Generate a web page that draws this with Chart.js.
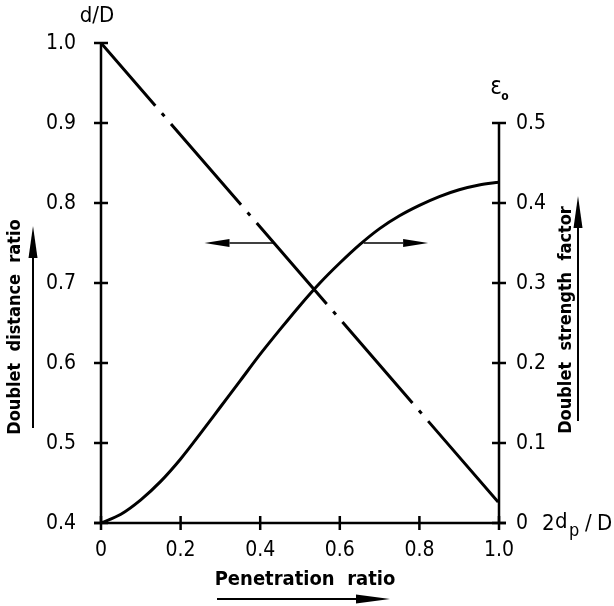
<!DOCTYPE html>
<html>
<head>
<meta charset="utf-8">
<script src="https://cdn.jsdelivr.net/npm/chart.js@4/dist/chart.umd.min.js"></script>
<style>
  html, body { margin: 0; padding: 0; background: #fff; }
  #wrap { width: 614px; height: 606px; }
</style>
</head>
<body>
<div id="wrap"><canvas id="chart_doublet"></canvas></div>
<script>
// penetration ratio 2dp/D
const penetration = [0, 0.05, 0.1, 0.15, 0.2, 0.25, 0.3, 0.35, 0.4, 0.45, 0.5,
    0.55, 0.6, 0.65, 0.7, 0.75, 0.8, 0.85, 0.9, 0.95, 1.0];
// doublet strength factor eps0 (right axis)
const strength = [0, 0.011, 0.029, 0.052, 0.080, 0.112, 0.145, 0.178, 0.211, 0.242, 0.272,
    0.3, 0.325, 0.348, 0.368, 0.384, 0.397, 0.408, 0.4165, 0.4225, 0.426];
// doublet distance ratio d/D (left axis), straight line
const distanceX = [0, 1.0];
const distance = [1.0, 0.425];

const xTicks = [0, 0.2, 0.4, 0.6, 0.8, 1.0];
const xTickLabels = ["0", "0.2", "0.4", "0.6", "0.8", "1.0"];
const leftTicks = [0.4, 0.5, 0.6, 0.7, 0.8, 0.9, 1.0];
const leftTickLabels = ["0.4", "0.5", "0.6", "0.7", "0.8", "0.9", "1.0"];
const rightTicks = [0, 0.1, 0.2, 0.3, 0.4, 0.5];
const rightTickLabels = ["0", "0.1", "0.2", "0.3", "0.4", "0.5"];

const FONT = "'DejaVu Sans Condensed', 'Liberation Sans Narrow', 'DejaVu Sans', sans-serif";

function arrow(ctx, x1, y1, x2, y2, headLen, headW, lw) {
    const a = Math.atan2(y2 - y1, x2 - x1);
    const bx = x2 - headLen * Math.cos(a), by = y2 - headLen * Math.sin(a);
    ctx.lineWidth = lw;
    ctx.beginPath();
    ctx.moveTo(x1, y1);
    ctx.lineTo(bx, by);
    ctx.stroke();
    ctx.beginPath();
    ctx.moveTo(x2, y2);
    ctx.lineTo(bx + headW * Math.sin(a), by - headW * Math.cos(a));
    ctx.lineTo(bx - headW * Math.sin(a), by + headW * Math.cos(a));
    ctx.closePath();
    ctx.fill();
}

const axesPlugin = {
    id: "axesPlugin",
    afterDatasetsDraw(chart) {
        const ctx = chart.ctx;
        const sx = chart.scales.x, sl = chart.scales.y, sr = chart.scales.y2;
        const x0 = sx.getPixelForValue(0), x1 = sx.getPixelForValue(1);
        const yb = sl.getPixelForValue(0.4), yt = sl.getPixelForValue(1.0);
        const rt = sr.getPixelForValue(0.5);
        const t = 7;
        ctx.save();
        ctx.strokeStyle = "#000";
        ctx.fillStyle = "#000";
        ctx.lineWidth = 2.5;
        ctx.lineCap = "butt";

        // axis lines
        ctx.beginPath();
        ctx.moveTo(x0, yt); ctx.lineTo(x0, yb);
        ctx.moveTo(x0 - t, yb); ctx.lineTo(x1 + t, yb);
        ctx.moveTo(x1, rt); ctx.lineTo(x1, yb);
        ctx.stroke();

        // ticks crossing the axes
        ctx.beginPath();
        leftTicks.forEach((v) => {
            const y = sl.getPixelForValue(v);
            ctx.moveTo(x0 - t, y); ctx.lineTo(x0 + t, y);
        });
        rightTicks.forEach((v) => {
            const y = sr.getPixelForValue(v);
            ctx.moveTo(x1 - t, y); ctx.lineTo(x1 + t, y);
        });
        xTicks.forEach((v) => {
            const x = sx.getPixelForValue(v);
            ctx.moveTo(x, yb - t); ctx.lineTo(x, yb + t);
        });
        ctx.stroke();

        // tick labels
        ctx.font = "21px " + FONT;
        ctx.textBaseline = "middle";
        ctx.textAlign = "right";
        leftTicks.forEach((v, i) => {
            ctx.fillText(leftTickLabels[i], x0 - 25, sl.getPixelForValue(v) + 1);
        });
        ctx.textAlign = "left";
        rightTicks.forEach((v, i) => {
            ctx.fillText(rightTickLabels[i], x1 + 17, sr.getPixelForValue(v) + 1);
        });
        ctx.textAlign = "center";
        xTicks.forEach((v, i) => {
            ctx.fillText(xTickLabels[i], sx.getPixelForValue(v), yb + 28);
        });

        // axis names
        ctx.font = "22px " + FONT;
        ctx.textAlign = "center";
        ctx.fillText("d/D", x0 - 4, 16);
        ctx.font = "24px " + FONT;
        ctx.fillText("\u03b5", x1 - 3, 88);
        ctx.font = "bold 12px " + FONT;
        ctx.fillText("o", x1 + 6, 97);

        ctx.font = "22px " + FONT;
        ctx.textAlign = "left";
        ctx.fillText("2", x1 + 43, yb + 1);
        ctx.fillText("d", x1 + 56, yb - 1);
        ctx.font = "18px " + FONT;
        ctx.fillText("p", x1 + 70, yb + 8);
        ctx.font = "22px " + FONT;
        ctx.fillText("/", x1 + 86, yb + 1);
        ctx.fillText("D", x1 + 98, yb + 1);

        ctx.font = "bold 20px " + FONT;
        ctx.textAlign = "center";
        ctx.fillText("Penetration  ratio", 305, 580);
        arrow(ctx, 217, 599, 390, 599, 34, 4.5, 2);

        ctx.save();
        ctx.translate(15, 327);
        ctx.rotate(-Math.PI / 2);
        ctx.font = "bold 18px " + FONT;
        ctx.fillText("Doublet  distance  ratio", 0, 0);
        ctx.restore();
        arrow(ctx, 33, 428, 33, 226, 32, 4.5, 2);

        ctx.save();
        ctx.translate(566, 320);
        ctx.rotate(-Math.PI / 2);
        ctx.font = "bold 18px " + FONT;
        ctx.fillText("Doublet  strength  factor", 0, 0);
        ctx.restore();
        arrow(ctx, 578, 421, 578, 196, 32, 4.5, 2);

        // pointers from each curve to its axis
        const ya = sl.getPixelForValue(0.75);
        const xl = sx.getPixelForValue((1.0 - 0.75) / 0.575);
        arrow(ctx, xl, ya, sx.getPixelForValue(0.26), ya, 25, 4, 1.5);
        const yr = sr.getPixelForValue(0.35);
        arrow(ctx, sx.getPixelForValue(0.66), yr, sx.getPixelForValue(0.822), yr, 25, 4, 1.5);

        ctx.restore();
    },
};

new Chart(document.getElementById("chart_doublet"), {
    type: "line",
    data: {
        datasets: [
            {
                label: "d/D",
                data: distanceX.map((x, i) => ({ x: x, y: distance[i] })),
                yAxisID: "y",
                borderColor: "#000",
                borderWidth: 3,
                borderDash: [107, 10, 4, 10],
                borderDashOffset: 24,
                pointRadius: 0,
                fill: false,
            },
            {
                label: "eps0",
                data: penetration.map((x, i) => ({ x: x, y: strength[i] })),
                yAxisID: "y2",
                borderColor: "#000",
                borderWidth: 3,
                cubicInterpolationMode: "monotone",
                pointRadius: 0,
                fill: false,
            },
        ],
    },
    options: {
        responsive: true,
        maintainAspectRatio: false,
        animation: false,
        layout: { padding: { left: 101, right: 115, top: 43, bottom: 83 } },
        plugins: { legend: { display: false }, tooltip: { enabled: false } },
        scales: {
            x: { type: "linear", min: 0, max: 1, display: false },
            y: { type: "linear", min: 0.4, max: 1.0, display: false },
            y2: { type: "linear", min: 0, max: 0.6, display: false },
        },
    },
    plugins: [axesPlugin],
});
</script>
</body>
</html>
